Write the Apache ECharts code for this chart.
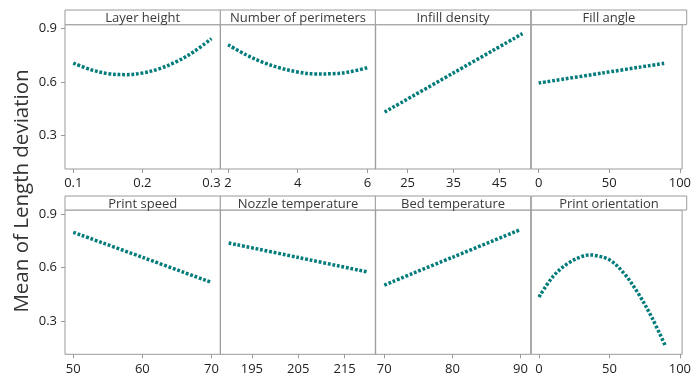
<!DOCTYPE html>
<html>
<head>
<meta charset="utf-8">
<script src="https://cdn.jsdelivr.net/npm/echarts@6/dist/echarts.min.js"></script>
<style>
  html, body { margin: 0; padding: 0; background: #fff; }
  #chart { width: 694px; height: 377px; }
</style>
</head>
<body>
<div id="chart"></div>
<script>
// Main effects plot: mean of length deviation for each printing factor

const factorNames = ['Layer height', 'Number of perimeters', 'Infill density', 'Fill angle',
                     'Print speed', 'Nozzle temperature', 'Bed temperature', 'Print orientation'];

// Factor levels (x) and fitted means (y)
const layerHeightX = [0.1, 0.125, 0.15, 0.175, 0.2, 0.225, 0.25, 0.275, 0.3];
const layerHeightY = [0.707, 0.670, 0.648, 0.642, 0.651, 0.676, 0.716, 0.772, 0.844];

const perimetersX = [2, 2.5, 3, 3.5, 4, 4.5, 5, 5.5, 6];
const perimetersY = [0.810, 0.755, 0.711, 0.679, 0.657, 0.646, 0.647, 0.658, 0.681];

const infillX = [20, 35, 50];
const infillY = [0.432, 0.652, 0.872];

const fillAngleX = [0, 45, 90];
const fillAngleY = [0.595, 0.651, 0.707];

const printSpeedX = [50, 60, 70];
const printSpeedY = [0.797, 0.657, 0.516];

const nozzleTempX = [190, 205, 220];
const nozzleTempY = [0.737, 0.656, 0.574];

const bedTempX = [70, 80, 90];
const bedTempY = [0.501, 0.657, 0.812];

const orientationX = [0, 10, 20, 30, 36, 40, 50, 60, 70, 80, 90];
const orientationY = [0.434, 0.550, 0.620, 0.660, 0.670, 0.667, 0.643, 0.570, 0.460, 0.321, 0.155];

// Axis tick labels
const yTicks = [0.3, 0.6, 0.9];
const xTicks = [
  [0.1, 0.2, 0.3], [2, 4, 6], [25, 35, 45], [0, 50, 100],
  [50, 60, 70], [195, 205, 215], [70, 80, 90], [0, 50, 100]
];
const xRanges = [
  [0.088, 0.313], [1.778, 6.239], [17.98, 51.78], [-5.2, 101.6],
  [48.8, 71.3], [188.2, 221.7], [68.68, 91.5], [-5.5, 101.6]
];
const seriesX = [layerHeightX, perimetersX, infillX, fillAngleX, printSpeedX, nozzleTempX, bedTempX, orientationX];
const seriesY = [layerHeightY, perimetersY, infillY, fillAngleY, printSpeedY, nozzleTempY, bedTempY, orientationY];

// Panel layout
const panelLefts = [65, 220.3, 375.3, 531.3];
const panelWidth = 155.4;
const rowBoxTop = [10, 196];
const rowPlotTop = [24.7, 210];
const plotHeight = 144.3;

const textColor = '#222222';
const headerColor = '#3a3a3a';
const frameColor = '#9a9a9a';
const lineColor = '#007b7b';
const fontFamily = '"Open Sans", "Noto Sans", sans-serif';

const grids = [], xAxes = [], yAxes = [], series = [], graphics = [];

for (let i = 0; i < 8; i++) {
  const row = Math.floor(i / 4), col = i % 4;
  grids.push({
    left: panelLefts[col], top: rowPlotTop[row], width: panelWidth, height: plotHeight,
    show: true, borderColor: frameColor, borderWidth: 1, backgroundColor: 'transparent'
  });
  xAxes.push({
    type: 'value', gridIndex: i, min: xRanges[i][0], max: xRanges[i][1],
    axisLine: { show: false },
    splitLine: { show: false },
    axisTick: { show: true, length: 4, lineStyle: { color: frameColor }, customValues: xTicks[i] },
    axisLabel: {
      show: true, margin: 8, color: textColor, fontSize: 13, fontFamily,
      customValues: xTicks[i], formatter: v => String(v)
    }
  });
  yAxes.push({
    type: 'value', gridIndex: i, min: 0.113, max: 0.922,
    axisLine: { show: false },
    splitLine: { show: false },
    axisTick: { show: col === 0, length: 4, lineStyle: { color: frameColor }, customValues: yTicks },
    axisLabel: {
      show: col === 0, margin: 8, color: textColor, fontSize: 13, fontFamily,
      customValues: yTicks, formatter: v => v.toFixed(1)
    }
  });
  series.push({
    type: 'line', xAxisIndex: i, yAxisIndex: i, smooth: 0.35,
    symbol: 'none', silent: true,
    lineStyle: { color: lineColor, width: 3.5, type: [2.8, 1.8], cap: 'butt' },
    data: seriesX[i].map((x, k) => [x, seriesY[i][k]])
  });
  // header strip above each panel
  graphics.push({
    type: 'rect',
    shape: { x: panelLefts[col], y: rowBoxTop[row], width: panelWidth, height: rowPlotTop[row] - rowBoxTop[row] },
    style: { fill: '#fff', stroke: frameColor, lineWidth: 1 }
  });
  graphics.push({
    type: 'text',
    x: panelLefts[col] + panelWidth / 2,
    y: (rowBoxTop[row] + rowPlotTop[row]) / 2 + 1,
    style: {
      text: factorNames[i], fill: headerColor, fontSize: 13, fontFamily,
      align: 'center', verticalAlign: 'middle'
    }
  });
}

graphics.push({
  type: 'text', x: 22, y: 191, rotation: Math.PI / 2,
  style: {
    text: 'Mean of Length deviation', fill: '#333333', fontSize: 20.5, fontFamily,
    align: 'center', verticalAlign: 'middle'
  }
});

const chart = echarts.init(document.getElementById('chart'), null, { renderer: 'canvas' });
chart.setOption({
  animation: false,
  backgroundColor: '#ffffff',
  grid: grids, xAxis: xAxes, yAxis: yAxes, series: series,
  graphic: graphics
});
</script>
</body>
</html>
